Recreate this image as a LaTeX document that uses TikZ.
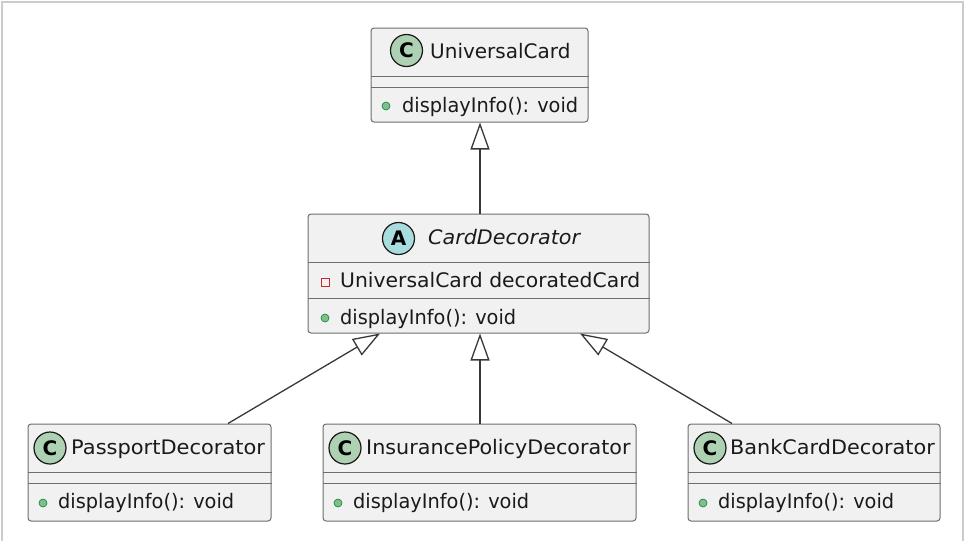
\documentclass[tikz,border=0pt]{standalone}
\usepackage{fontspec}
\setmainfont{DejaVu Sans}
\usetikzlibrary{arrows.meta}
\definecolor{boxfill}{HTML}{F1F1F1}
\definecolor{boxgray}{HTML}{6E6E6E}
\definecolor{linecol}{HTML}{383838}
\definecolor{iconline}{HTML}{181818}
\definecolor{txt}{HTML}{1A1A1A}
\definecolor{cgreen}{HTML}{ADD1B2}
\definecolor{acyan}{HTML}{A9DCDF}
\definecolor{dotfill}{HTML}{84BE84}
\definecolor{dotdraw}{HTML}{038048}
\definecolor{privred}{HTML}{C82930}
\definecolor{framegray}{HTML}{CCCCCC}
\newcommand{\sx}[2]{\scalebox{#1}[1]{#2}}
\tikzset{
  classbox/.style={draw=boxgray, fill=boxfill, rounded corners=3pt, line width=1pt, inner sep=0pt},
  sepline/.style={draw=boxgray, line width=1pt},
  inh/.style={draw=linecol, line width=1.3pt, -{Triangle[length=27pt,width=19pt,fill=white,line width=1.3pt]}},
  icon/.style={circle, draw=iconline, line width=1.2pt, minimum size=32pt, inner sep=0pt, font=\bfseries\fontsize{20}{20}\selectfont},
  lbl/.style={anchor=base west, inner sep=0pt, text=txt, font=\fontsize{20}{24}\selectfont},
  pubdot/.style={circle, fill=dotfill, draw=dotdraw, line width=0.6pt, minimum size=8pt, inner sep=0pt},
  privsq/.style={rectangle, draw=privred, line width=1pt, minimum size=8pt, inner sep=0pt}
}
\begin{document}
\begin{tikzpicture}[x=1pt,y=-1pt]
\useasboundingbox (0,0) rectangle (966,541);
\draw[framegray, line width=2pt] (1.5,541) -- (1.5,1.5) -- (963,1.5) -- (963,541);

% UniversalCard
\node[classbox, minimum width=217pt, minimum height=94pt] (uc) at (479.5,75) {};
\draw[sepline] (uc.west |- 0,76) -- (uc.east |- 0,76);
\draw[sepline] (uc.west |- 0,87) -- (uc.east |- 0,87);
\node[icon, fill=cgreen] (ucI) at (406.5,50.5) {C};
\node[lbl] (ucT) at (430,58) {UniversalCard};
\node[pubdot] (ucD) at (386,106) {};
\node[lbl] (ucM) at (402,112) {\sx{0.967}{displayInfo(): void}};

% CardDecorator
\node[classbox, minimum width=341pt, minimum height=119pt] (cd) at (478.5,273.5) {};
\draw[sepline] (cd.west |- 0,262) -- (cd.east |- 0,262);
\draw[sepline] (cd.west |- 0,298) -- (cd.east |- 0,298);
\node[icon, fill=acyan] (cdI) at (398.5,238.5) {A};
\node[lbl, font=\itshape\fontsize{20}{24}\selectfont] (cdT) at (428,244) {\sx{1.034}{CardDecorator}};
\node[privsq] (cdS) at (325,282) {};
\node[lbl] (cdA) at (340,287) {\sx{1.017}{UniversalCard decoratedCard}};
\node[pubdot] (cdD) at (325,318) {};
\node[lbl] (cdM) at (340,324) {\sx{0.967}{displayInfo(): void}};

% Passport
\node[classbox, minimum width=243pt, minimum height=97pt] (pd) at (149.5,472.5) {};
\draw[sepline] (pd.west |- 0,472) -- (pd.east |- 0,472);
\draw[sepline] (pd.west |- 0,483) -- (pd.east |- 0,483);
\node[icon, fill=cgreen] (pdI) at (50,448) {C};
\node[lbl] (pdT) at (71,454) {\sx{1.048}{PassportDecorator}};
\node[pubdot] (pdD) at (43,503) {};
\node[lbl] (pdM) at (58,508) {\sx{0.967}{displayInfo(): void}};

% Insurance
\node[classbox, minimum width=313pt, minimum height=97pt] (ip) at (479.5,472.5) {};
\draw[sepline] (ip.west |- 0,472) -- (ip.east |- 0,472);
\draw[sepline] (ip.west |- 0,483) -- (ip.east |- 0,483);
\node[icon, fill=cgreen] (ipI) at (345,448) {C};
\node[lbl] (ipT) at (366,454) {\sx{1.035}{InsurancePolicyDecorator}};
\node[pubdot] (ipD) at (338,503) {};
\node[lbl] (ipM) at (353,508) {\sx{0.967}{displayInfo(): void}};

% Bank
\node[classbox, minimum width=252pt, minimum height=97pt] (bc) at (814,472.5) {};
\draw[sepline] (bc.west |- 0,472) -- (bc.east |- 0,472);
\draw[sepline] (bc.west |- 0,483) -- (bc.east |- 0,483);
\node[icon, fill=cgreen] (bcI) at (710,448) {C};
\node[lbl] (bcT) at (730,454) {\sx{1.04}{BankCardDecorator}};
\node[pubdot] (bcD) at (703,503) {};
\node[lbl] (bcM) at (718,508) {\sx{0.967}{displayInfo(): void}};

% Inheritance
\draw[inh] (cd.north -| 480,0) -- (uc.south -| 480,0);
\draw[inh] (ip.north -| 480,0) -- (cd.south -| 480,0);
\draw[inh] (pd.north -| 228,0) -- (cd.south -| 380,0);
\draw[inh] (bc.north -| 732,0) -- (cd.south -| 580,0);
\end{tikzpicture}
\end{document}
